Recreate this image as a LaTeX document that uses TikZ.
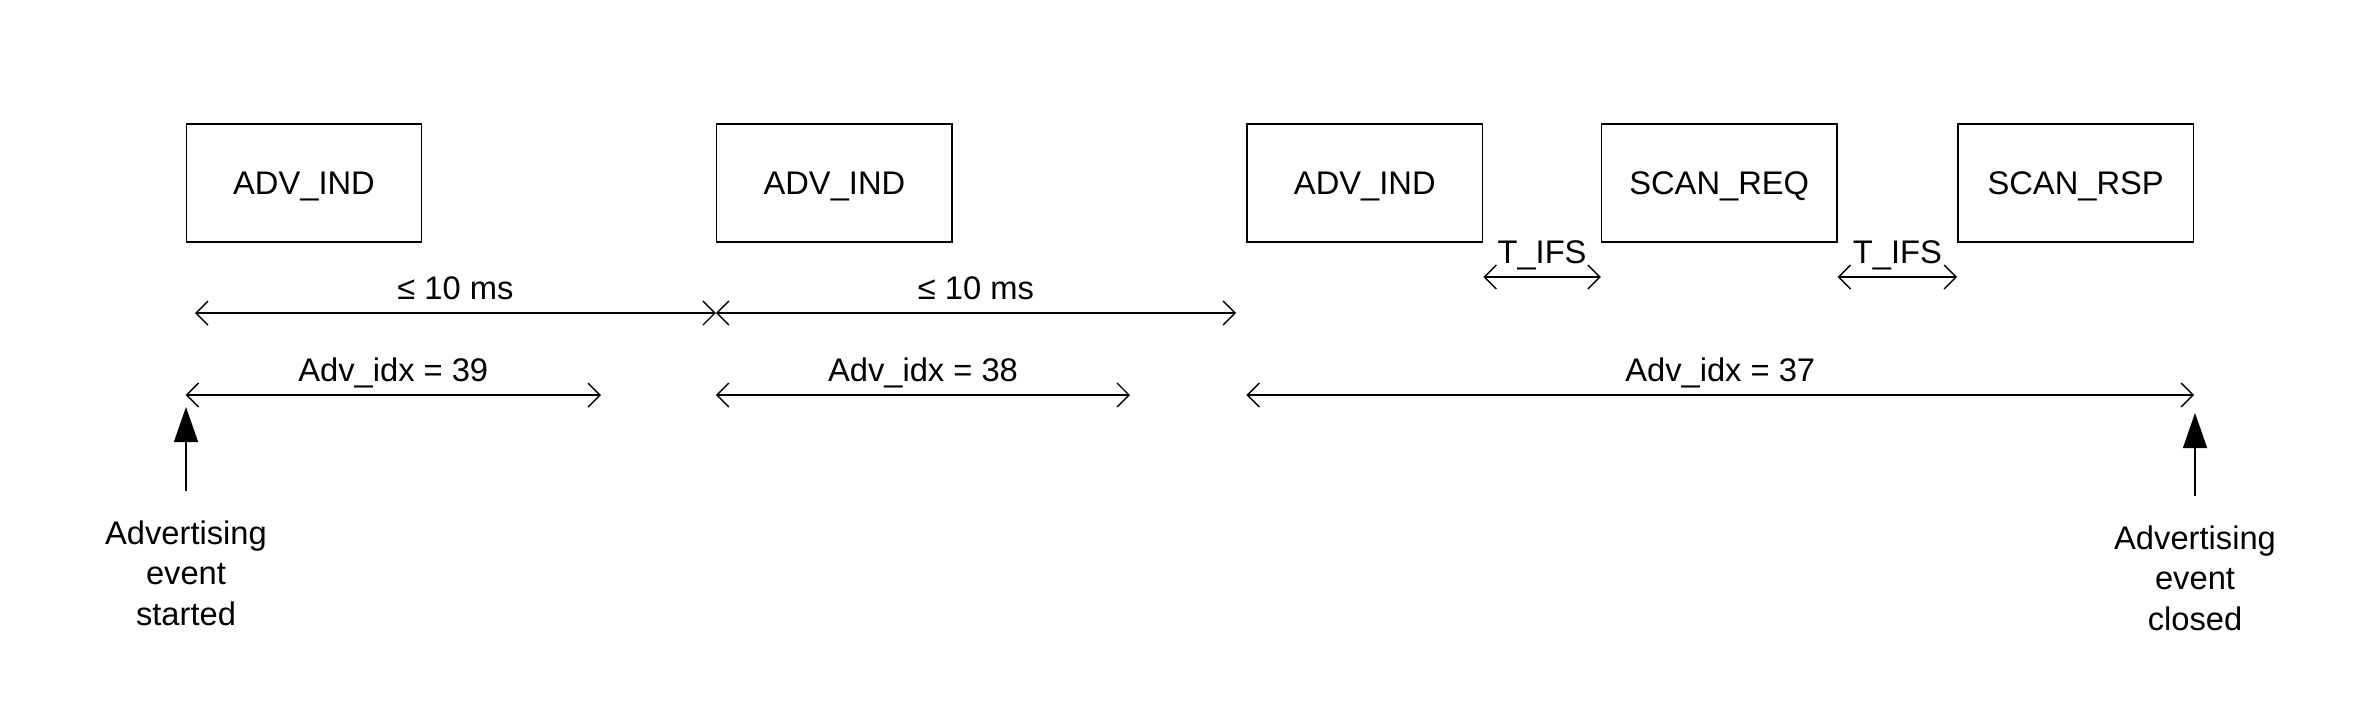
\documentclass[tikz,border=0pt]{standalone}
\usepackage{fontspec}
\setmainfont{Liberation Sans}
\usetikzlibrary{positioning, arrows.meta}

\begin{document}
\begin{tikzpicture}[font=\fontsize{9.3}{11.5}\selectfont,
    pdu/.style={draw, minimum width=2.355cm, minimum height=1.18cm, inner sep=0pt, text depth=0pt},
    dim/.style={{Straight Barb[length=0.12cm,width=0.24cm]}-{Straight Barb[length=0.12cm,width=0.24cm]}},
    evmark/.style={-{Triangle[length=0.35cm,width=0.24cm]}},
    lbl/.style={anchor=base, yshift=0.14cm, inner sep=0pt},
    evtxt/.style={align=center, inner sep=0pt}]
\useasboundingbox (0,0) rectangle (23.74,-7.26);
\node (adv1) [pdu] at (3.04,-1.83) {ADV\_IND};
\node (adv2) [pdu, right=2.935cm of adv1] {ADV\_IND};
\node (adv3) [pdu, right=2.935cm of adv2] {ADV\_IND};
\node (scanreq) [pdu, right=1.175cm of adv3] {SCAN\_REQ};
\node (scanrsp) [pdu, right=1.195cm of scanreq] {SCAN\_RSP};
% interval ends
\coordinate (ms0) at (1.95,-3.13);
\coordinate (ms1) at (adv2.west |- ms0);
\coordinate (ms2) at (12.36,-3.13);
\coordinate (ifs0) at (adv3.east |- 0,-2.77);
\coordinate (ifs1) at (scanreq.west |- ifs0);
\coordinate (ifs2) at (scanreq.east |- ifs0);
\coordinate (ifs3) at (scanrsp.west |- ifs0);
\coordinate (idx0) at (adv1.west |- 0,-3.95);
\coordinate (idx1) at (6.01,-3.95);
\coordinate (idx2) at (adv2.west |- idx0);
\coordinate (idx3) at (11.30,-3.95);
\coordinate (idx4) at (adv3.west |- idx0);
\coordinate (idx5) at (scanrsp.east |- idx0);
\path[dim]
(ms0) edge node [lbl] {≤ 10 ms} (ms1)
(ms1) edge node [lbl] {≤ 10 ms} (ms2)
(ifs0) edge node [lbl] {T\_IFS} (ifs1)
(ifs2) edge node [lbl] {T\_IFS} (ifs3)
(idx0) edge node [lbl] {Adv\_idx = 39} (idx1)
(idx2) edge node [lbl] {Adv\_idx = 38} (idx3)
(idx4) edge node [lbl] {Adv\_idx = 37} (idx5);
% event markers
\coordinate (beg0) at (1.86,-4.91);
\coordinate (beg1) at (1.86,-4.07);
\coordinate (end0) at (21.95,-4.96);
\coordinate (end1) at (21.95,-4.13);
\draw[evmark] (beg0) -- (beg1);
\draw[evmark] (end0) -- (end1);
\node (started) [evtxt, below=0.29cm of beg0] {Advertising\\event\\started};
\node (closed) [evtxt, below=0.29cm of end0] {Advertising\\event\\closed};
\end{tikzpicture}
\end{document}
